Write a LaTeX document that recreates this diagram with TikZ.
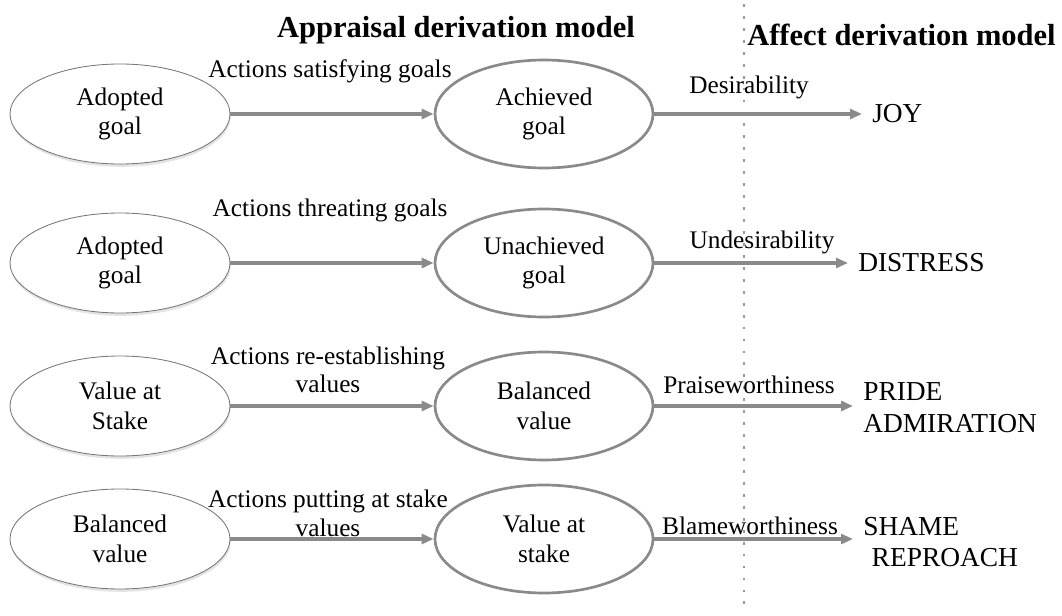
\documentclass[tikz,border=0pt]{standalone}
\usepackage{fontspec}
\setmainfont{Liberation Serif}
\usepackage{tikz}
\usetikzlibrary{arrows.meta,shapes.geometric,shadows}
\definecolor{arrgray}{HTML}{8A8A8A}
\definecolor{rimgray}{HTML}{767676}
\definecolor{dotgray}{HTML}{9A9A9A}
\tikzset{
	srcstate/.style={ellipse, draw=rimgray, line width=0.6pt, fill=white, minimum width=5.5cm, minimum height=2.5cm, inner sep=0pt, align=center, font=\fontsize{18}{21}\selectfont, drop shadow={shadow xshift=0.5pt, shadow yshift=-2pt, opacity=0.22}},
	goalstate/.style={ellipse, draw=arrgray, line width=1.9pt, fill=white, minimum width=5.45cm, minimum height=2.7cm, inner sep=0pt, align=center, font=\fontsize{18}{21}\selectfont},
	emotion/.style={anchor=west, inner sep=0pt, align=left, font=\fontsize{19.5}{22.5}\selectfont},
	lbl/.style={inner sep=0pt, align=center, font=\fontsize{18}{20}\selectfont},
	heading/.style={inner sep=0pt, font=\fontsize{21.7}{26}\selectfont\bfseries},
	flow/.style={draw=arrgray, line width=2.2pt, -{Triangle[length=8.5pt,width=7pt]}},
}

\begin{document}
\begin{tikzpicture}
		%%%%% START %%%%%
		\useasboundingbox (0, 0) rectangle (26.55, 15.375);
		
		\draw[dotgray, line width=2pt, dash pattern=on 2pt off 6.5pt] (18.6, 15.275) -- (18.6, 0.2);
		
		\node[heading] (appraisal) at (11.4, 14.625) {Appraisal derivation model};
		\node[heading, anchor=west] (affect) at (18.675, 14.5) {Affect derivation model};
		
		\node[srcstate] (l1) at (3, 12.525) {Adopted\\goal};
		\node[goalstate] (r1) at (13.6, 12.525) {Achieved\\goal};
		\node[emotion] (e1) at (21.8, 12.525) {JOY};
		\node[lbl] (a1) at (8.25, 13.6) {Actions satisfying goals};
		\node[lbl] (d1) at (18.725, 13.2) {Desirability};
		
		\node[srcstate] (l2) at (3, 8.8) {Adopted\\goal};
		\node[goalstate] (r2) at (13.6, 8.8) {Unachieved\\goal};
		\node[emotion] (e2) at (21.45, 8.8) {DISTRESS};
		\node[lbl] (a2) at (8.25, 10.125) {Actions threating goals};
		\node[lbl] (d2) at (19.05, 9.325) {Undesirability};
		
		\node[srcstate] (l3) at (3, 5.225) {Value at\\Stake};
		\node[goalstate] (r3) at (13.6, 5.225) {Balanced\\value};
		\node[emotion] (e3) at (21.575, 5.19) {PRIDE\\ADMIRATION};
		\node[lbl] (a3) at (8.2, 6.125) {Actions re-establishing\\values};
		\node[lbl] (d3) at (18.725, 5.75) {Praiseworthiness};
		
		\node[srcstate] (l4) at (3, 1.9) {Balanced\\value};
		\node[goalstate] (r4) at (13.6, 1.9) {Value at\\stake};
		\node[emotion] (e4) at (21.575, 1.825) {SHAME\\\hspace*{6pt}REPROACH};
		\node[lbl] (a4) at (8.2, 2.54) {Actions putting at stake\\values};
		\node[lbl] (d4) at (18.75, 2.225) {Blameworthiness};
		
		\draw[flow] (l1) -- (r1);
		\draw[flow] (l2) -- (r2);
		\draw[flow] (l3) -- (r3);
		\draw[flow] (l4) -- (r4);
		
		\draw[flow, shorten >=0.25cm] (r1) -- (r1 -| e1.west);
		\draw[flow, shorten >=0.25cm] (r2) -- (r2 -| e2.west);
		\draw[flow, shorten >=0.25cm] (r3) -- (r3 -| e3.west);
		\draw[flow, shorten >=0.25cm] (r4) -- (r4 -| e4.west);
		%%%%% END %%%%%
\end{tikzpicture}
\end{document}
